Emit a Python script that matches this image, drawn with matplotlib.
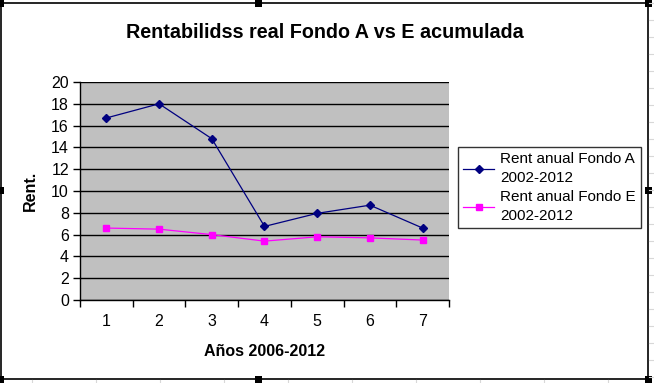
import matplotlib
matplotlib.use("Agg")
import matplotlib.pyplot as plt
from matplotlib.patches import Rectangle

plt.rcParams['font.family'] = ['Liberation Sans', 'DejaVu Sans']

years = [1, 2, 3, 4, 5, 6, 7]
fondo_a = [16.7, 18.0, 14.8, 6.75, 7.95, 8.7, 6.6]
fondo_e = [6.6, 6.5, 6.0, 5.4, 5.8, 5.7, 5.5]
label_a = "Rent anual Fondo A\n2002-2012"
label_e = "Rent anual Fondo E\n2002-2012"
title = "Rentabilidss real Fondo A vs E acumulada"
xlabel = "Años 2006-2012"
ylabel = "Rent."

W, H = 654, 383
fig = plt.figure(figsize=(W / 100, H / 100), dpi=100)
fig.patch.set_facecolor('white')

# spreadsheet cell lines outside chart
for yy in range(3, H, 17):
    fig.add_artist(plt.Line2D([649 / W, 1], [1 - yy / H] * 2, color='#d8d8d8', lw=0.8))
for xx in [32, 96, 160, 224, 288, 352, 416, 480, 544, 608]:
    fig.add_artist(plt.Line2D([xx / W] * 2, [0, 1 - 380 / H], color='#d8d8d8', lw=0.8))

# chart frame
fig.add_artist(Rectangle((0.5 / W, 1 - 379 / H), 647.5 / W, 376 / H, transform=fig.transFigure,
                         fill=False, edgecolor='black', lw=1.2))
# handles
for (hx, hy) in [(0, 3), (258, 3), (648, 3), (0, 190), (648, 190), (0, 379), (258, 379), (648, 379)]:
    fig.add_artist(Rectangle(((hx - 3.5) / W, 1 - (hy + 3.5) / H), 7 / W, 7 / H,
                             transform=fig.transFigure, facecolor='black', edgecolor='none'))

ax = fig.add_axes([80 / W, 1 - 300 / H, (449 - 80) / W, (300 - 82) / H])
ax.set_facecolor('#c0c0c0')
ax.plot(years, fondo_a, color='#000080', lw=0.9, marker='D', ms=4.5, label=label_a)
ax.plot(years, fondo_e, color='#ff00ff', lw=0.9, marker='s', ms=5, label=label_e)

ax.set_xlim(0.5, 7.5)
ax.set_ylim(0, 20)
ax.set_yticks(range(0, 21, 2))
ax.set_yticklabels([str(v) for v in range(0, 21, 2)], fontsize=11.5)
ax.set_xticks([x + 0.5 for x in range(0, 8)])
ax.set_xticklabels([])
ax.set_xticks(years, minor=True)
ax.set_xticklabels([str(y) for y in years], minor=True, fontsize=11.5)
ax.tick_params(axis='x', which='minor', length=0, pad=10)
ax.tick_params(axis='x', which='major', length=5, width=1, direction='out')
ax.tick_params(axis='y', length=5, width=1, direction='out', pad=3)
ax.yaxis.grid(True, color='black', lw=1)
ax.set_axisbelow(True)
for s in ['top', 'right']:
    ax.spines[s].set_visible(False)
ax.spines['left'].set_linewidth(1)
ax.spines['bottom'].set_linewidth(1)

fig.text(325 / W, 1 - 32 / H, title, ha='center', va='center', fontsize=14.2, fontweight='bold')
fig.text(265 / W, 1 - 351 / H, xlabel, ha='center', va='center', fontsize=11.5, fontweight='bold')
fig.text(30 / W, 1 - 191 / H, ylabel, ha='center', va='center', rotation=90, fontsize=11.5, fontweight='bold')

leg = fig.legend(loc='upper left', bbox_to_anchor=(458 / W, 1 - 147 / H), bbox_transform=fig.transFigure,
                 fontsize=11, frameon=True, fancybox=False, edgecolor='black', handlelength=2.0,
                 handletextpad=0.4, borderpad=0.35, labelspacing=0.3, borderaxespad=0)
for t in leg.get_texts():
    t.set_linespacing(1.45)
leg.get_frame().set_linewidth(1)

fig.savefig('out.png', dpi=100)
